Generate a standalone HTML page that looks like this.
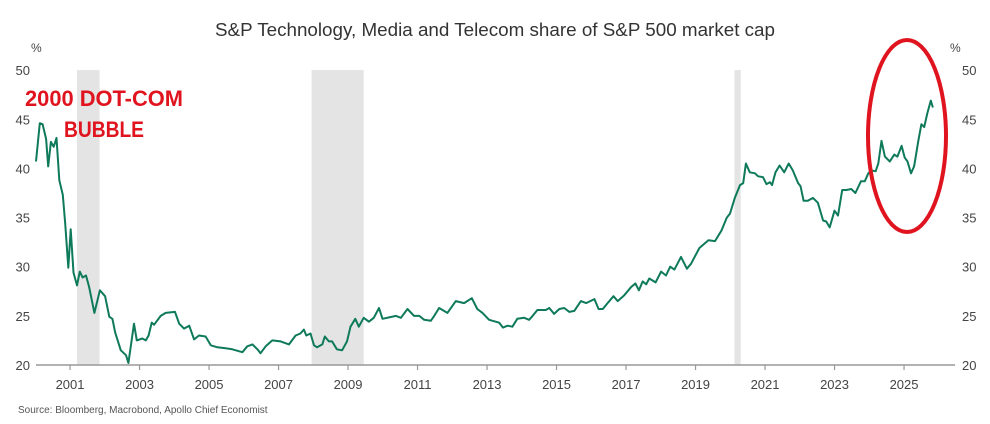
<!DOCTYPE html>
<html><head><meta charset="utf-8"><style>
body{margin:0;background:#fff;}
svg{display:block;font-family:"Liberation Sans",sans-serif;}
</style></head><body>
<svg id="chart" width="990" height="424" viewBox="0 0 990 424">
<text x="215" y="36" textLength="560" lengthAdjust="spacingAndGlyphs" font-size="18" fill="#333">S&amp;P Technology, Media and Telecom share of S&amp;P 500 market cap</text>
<text x="31" y="52" font-size="12" fill="#444">%</text>
<text x="950" y="52" font-size="12" fill="#444">%</text>
<text x="18" y="413" font-size="10" fill="#555">Source: Bloomberg, Macrobond, Apollo Chief Economist</text>
<g id="bands"></g>
<g id="axes"></g>
<g id="series"></g>
<text x="25" y="106" textLength="158" lengthAdjust="spacingAndGlyphs" font-size="22" font-weight="bold" fill="#e0141e">2000 DOT-COM</text>
<text x="64" y="137" textLength="80" lengthAdjust="spacingAndGlyphs" font-size="22" font-weight="bold" fill="#e0141e">BUBBLE</text>
<ellipse cx="907" cy="136" rx="39" ry="96" fill="none" stroke="#e0141e" stroke-width="4"/>
</svg>
<script>
const years = [2000.02,2000.13,2000.21,2000.31,2000.37,2000.45,2000.53,2000.61,2000.69,2000.79,2000.86,2000.95,2001.02,2001.10,2001.20,2001.28,2001.36,2001.46,2001.55,2001.70,2001.86,2002.01,2002.13,2002.22,2002.30,2002.46,2002.61,2002.68,2002.84,2002.92,2003.08,2003.18,2003.26,2003.35,2003.42,2003.61,2003.75,2004.02,2004.14,2004.28,2004.43,2004.57,2004.71,2004.90,2005.05,2005.24,2005.48,2005.67,2005.96,2006.10,2006.25,2006.39,2006.48,2006.63,2006.82,2007.06,2007.30,2007.49,2007.63,2007.73,2007.80,2007.92,2008.02,2008.11,2008.26,2008.33,2008.45,2008.54,2008.68,2008.83,2008.97,2009.07,2009.21,2009.31,2009.45,2009.60,2009.74,2009.89,2009.99,2010.38,2010.52,2010.71,2010.90,2011.05,2011.19,2011.38,2011.48,2011.62,2011.86,2012.10,2012.34,2012.56,2012.72,2012.87,2013.06,2013.35,2013.46,2013.59,2013.73,2013.87,2014.07,2014.21,2014.31,2014.45,2014.69,2014.79,2014.93,2015.08,2015.22,2015.37,2015.51,2015.70,2015.85,2016.09,2016.21,2016.33,2016.47,2016.64,2016.76,2016.95,2017.14,2017.27,2017.37,2017.48,2017.58,2017.67,2017.85,2018.01,2018.15,2018.27,2018.39,2018.58,2018.75,2018.87,2019.11,2019.37,2019.56,2019.75,2019.90,2019.99,2020.13,2020.28,2020.37,2020.45,2020.56,2020.71,2020.80,2020.94,2021.04,2021.14,2021.20,2021.30,2021.42,2021.55,2021.68,2021.80,2021.95,2022.02,2022.11,2022.23,2022.38,2022.52,2022.67,2022.76,2022.86,2023.00,2023.10,2023.22,2023.34,2023.48,2023.60,2023.76,2023.87,2023.97,2024.06,2024.18,2024.26,2024.35,2024.45,2024.59,2024.72,2024.81,2024.93,2025.02,2025.10,2025.20,2025.29,2025.41,2025.50,2025.58,2025.67,2025.77,2025.83];
const values = [40.7,44.6,44.5,43.0,40.2,42.7,42.2,43.1,38.8,37.3,34.4,29.9,33.8,29.4,28.1,29.5,28.9,29.1,27.9,25.3,27.6,27.0,24.9,24.7,23.3,21.5,21.0,20.2,24.2,22.5,22.7,22.5,23.0,24.3,24.1,25.0,25.3,25.4,24.2,23.7,24.0,22.6,23.0,22.9,22.0,21.8,21.7,21.6,21.3,21.9,22.1,21.6,21.2,21.9,22.5,22.4,22.1,23.0,23.2,23.6,23.0,23.2,22.0,21.8,22.1,22.9,22.4,22.4,21.6,21.5,22.4,23.9,24.7,23.9,24.8,24.4,24.8,25.8,24.7,25.0,24.8,25.7,25.0,25.0,24.6,24.5,25.0,25.8,25.3,26.5,26.3,26.8,25.7,25.3,24.6,24.3,23.8,24.0,23.9,24.7,24.8,24.6,25.0,25.6,25.6,25.8,25.2,25.7,25.8,25.4,25.5,26.5,26.3,26.7,25.7,25.7,26.3,27.0,26.5,27.1,27.9,28.3,27.6,28.5,28.2,28.8,28.4,29.5,29.1,30.0,29.7,31.0,29.8,30.3,31.9,32.7,32.6,33.7,35.0,35.4,37.0,38.3,38.5,40.5,39.6,39.5,39.2,39.1,38.4,38.6,38.3,39.6,40.3,39.6,40.5,39.8,38.5,38.2,36.7,36.7,37.0,36.5,34.7,34.6,34.0,35.7,35.2,37.8,37.8,37.9,37.5,38.7,38.7,39.5,39.8,39.7,40.5,42.8,41.2,40.7,41.4,41.2,42.3,41.1,40.7,39.5,40.2,42.8,44.5,44.2,45.6,46.9,46.2];
const yTicks = [20,25,30,35,40,45,50];
const xTicks = [2001,2003,2005,2007,2009,2011,2013,2015,2017,2019,2021,2023,2025];
const bandStarts = [2001.2,2007.95,2020.12];
const bandEnds = [2001.85,2009.45,2020.3];

const NS='http://www.w3.org/2000/svg';
const X0=35.3, XS=34.75, Y0=365, YS=9.83;
const xs=y=>X0+(y-2000)*XS;
const ys=v=>Y0-(v-20)*YS;
function mk(tag,attrs,parent){const e=document.createElementNS(NS,tag);for(const k in attrs)e.setAttribute(k,attrs[k]);parent.appendChild(e);return e;}
const bands=document.getElementById('bands'),axes=document.getElementById('axes'),series=document.getElementById('series');
bandStarts.forEach((s,i)=>{
  const r=mk('rect',{x:xs(s),y:ys(50),width:xs(bandEnds[i])-xs(s),height:ys(20)-ys(50),fill:'#e3e4e3'},bands);
  
  
});
const ax=mk('line',{x1:36,x2:955,y1:Y0,y2:Y0,stroke:'#999','stroke-width':1.5},axes);


xTicks.forEach(t=>{
  const l=mk('line',{x1:xs(t),x2:xs(t),y1:Y0,y2:Y0+5,stroke:'#999','stroke-width':1.2},axes);
  
  
  const tx=mk('text',{x:xs(t),y:389,'text-anchor':'middle','font-size':13,fill:'#444'},axes);
  tx.textContent=t;
  
  
});
yTicks.forEach(t=>{
  const a=mk('text',{x:30,y:ys(t)+5,'text-anchor':'end','font-size':13,fill:'#444'},axes);
  a.textContent=t;
  
  
  const b=mk('text',{x:962,y:ys(t)+5,'font-size':13,fill:'#444'},axes);
  b.textContent=t;
  
  
});
const d=years.map((y,i)=>(i?'L':'M')+xs(y).toFixed(1)+','+ys(values[i]).toFixed(1)).join('');
const p=mk('path',{d:d,fill:'none',stroke:'#0e7a5a','stroke-width':2,'stroke-linejoin':'round'},series);


</script>
</body></html>
